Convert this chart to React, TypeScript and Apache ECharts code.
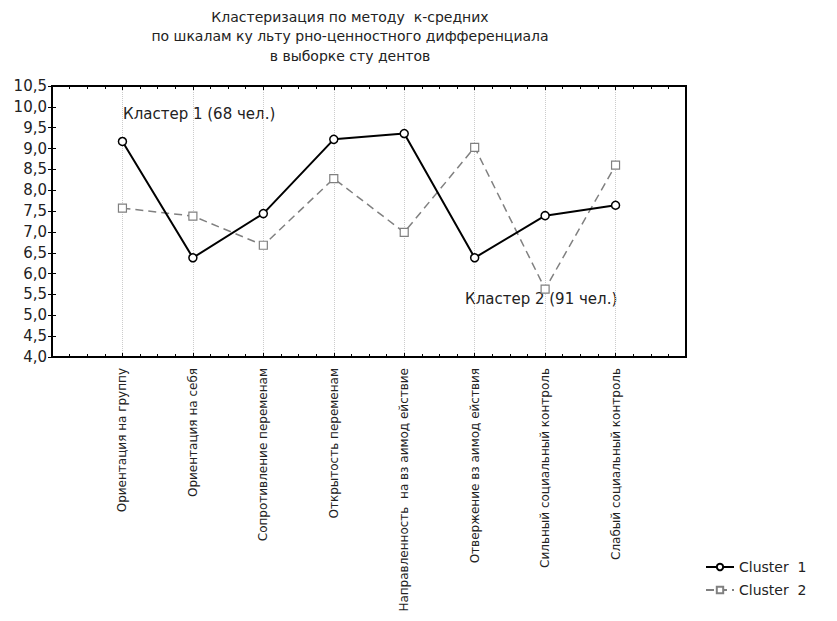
import React, { useEffect, useRef } from "react";
import * as echarts from "echarts";

const titleLines = [
  "Кластеризация по методу  к-средних",
  "по шкалам ку льту рно-ценностного дифференциала",
  "в выборке сту дентов",
];
const categories = [
  "Ориентация на группу",
  "Ориентация на себя",
  "Сопротивление переменам",
  "Открытость переменам",
  "Направленность  на вз аимод ействие",
  "Отвержение вз аимод ействия",
  "Сильный социальный контроль",
  "Слабый социальный контроль",
];
const cluster1 = [9.17, 6.38, 7.44, 9.22, 9.36, 6.38, 7.39, 7.64];
const cluster2 = [7.57, 7.38, 6.68, 8.28, 6.99, 9.03, 5.63, 8.6];
const seriesNames = ["Cluster  1", "Cluster  2"];
const annotations = ["Кластер 1 (68 чел.)", "Кластер 2 (91 чел.)"];

const FONT = "DejaVu Sans, Liberation Sans, Arial, sans-serif";

export default function App() {
  const ref = useRef<HTMLDivElement>(null);
  useEffect(() => {
    if (!ref.current) return;
    const chart = echarts.init(ref.current, null, { renderer: "svg" });
    const d1 = cluster1.map((v, i) => [i + 1, v]);
    const d2 = cluster2.map((v, i) => [i + 1, v]);
    const tickStyle = { show: true, inside: true, length: 4, lineStyle: { color: "#000", width: 1 } };
    const minorStyle = { show: true, splitNumber: 4, length: 3, lineStyle: { color: "#000", width: 1 } };
    chart.setOption({
      animation: false,
      backgroundColor: "#fff",
      textStyle: { fontFamily: FONT },
      grid: { left: 52, right: 151, top: 86, bottom: 264, containLabel: false },
      graphic: [
        {
          type: "text",
          x: 350,
          y: 7,
          style: {
            text: titleLines.join("\n"),
            fill: "#222",
            font: `14px ${FONT}`,
            lineHeight: 19.5,
            align: "center",
          },
        },
        {
          type: "text",
          x: 123,
          y: 106,
          style: { text: annotations[0], fill: "#222", font: `15px ${FONT}` },
        },
        {
          type: "text",
          x: 465,
          y: 291,
          style: { text: annotations[1], fill: "#222", font: `15px ${FONT}` },
        },
        {
          type: "rect",
          shape: { x: 52, y: 86, width: 634, height: 271 },
          style: { fill: "none", stroke: "#000", lineWidth: 2 },
          z: 10,
        },
      ],
      legend: {
        orient: "vertical",
        left: 700,
        top: 555,
        itemWidth: 28,
        itemHeight: 8,
        itemGap: 9,
        textStyle: { color: "#222", fontSize: 14, fontFamily: FONT },
        data: seriesNames,
      },
      xAxis: [
        {
          type: "value",
          min: 0,
          max: 9,
          interval: 1,
          axisLine: { show: true, lineStyle: { color: "#000", width: 2 } },
          axisTick: tickStyle,
          minorTick: minorStyle,
          splitLine: { show: true, lineStyle: { color: "#ccc", type: "dotted", width: 1 } },
          axisLabel: {
            rotate: 90,
            margin: 11,
            color: "#222",
            fontSize: 12,
            fontFamily: FONT,
            formatter: (v: number) => (v >= 1 && v <= 8 ? categories[v - 1] : ""),
          },
        },
        {
          type: "value",
          position: "top",
          min: 0,
          max: 9,
          interval: 1,
          axisLine: { show: true, lineStyle: { color: "#000", width: 2 } },
          axisTick: tickStyle,
          minorTick: minorStyle,
          splitLine: { show: false },
          axisLabel: { show: false },
        },
      ],
      yAxis: [
        {
          type: "value",
          min: 4,
          max: 10.5,
          interval: 0.5,
          axisLine: { show: true, lineStyle: { color: "#000", width: 2 } },
          axisTick: tickStyle,
          splitLine: { show: false },
          axisLabel: {
            color: "#222",
            fontSize: 15,
            fontFamily: FONT,
            margin: 5,
            formatter: (v: number) => v.toFixed(1).replace(".", ","),
          },
        },
        {
          type: "value",
          position: "right",
          min: 4,
          max: 10.5,
          interval: 0.5,
          axisLine: { show: true, lineStyle: { color: "#000", width: 2 } },
          axisTick: tickStyle,
          splitLine: { show: false },
          axisLabel: { show: false },
        },
      ],
      series: [
        {
          name: seriesNames[0],
          type: "line",
          data: d1,
          symbol: "circle",
          symbolSize: 8,
          lineStyle: { color: "#000", width: 2 },
          itemStyle: { color: "#fff", borderColor: "#000", borderWidth: 1.5 },
          z: 5,
        },
        {
          name: seriesNames[1],
          type: "line",
          data: d2,
          symbol: "rect",
          symbolSize: 8,
          lineStyle: { color: "#808080", width: 1.5, type: [8, 5] },
          itemStyle: { color: "#fff", borderColor: "#808080", borderWidth: 1.2 },
          z: 4,
        },
      ],
    });
    return () => chart.dispose();
  }, []);
  return (
    <div
      ref={ref}
      style={{ position: "fixed", left: 0, top: 0, width: 837, height: 621, background: "#fff" }}
    />
  );
}
